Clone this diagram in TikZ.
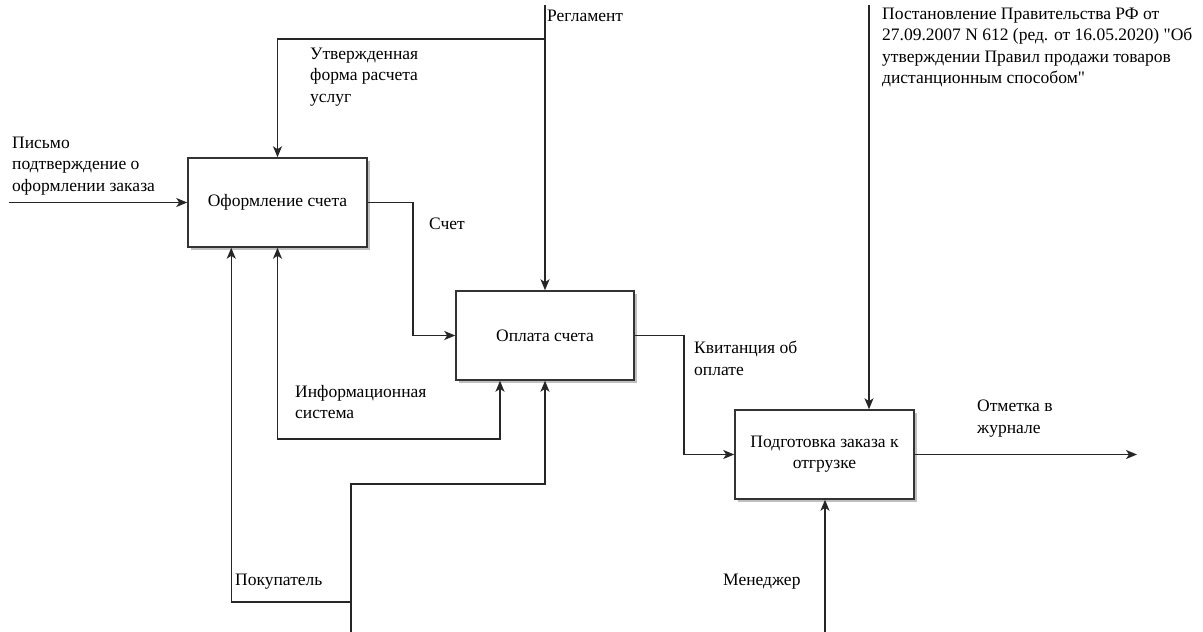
\documentclass[tikz,border=0pt]{standalone}
\usepackage{fontspec}
% a family without the TeX quote mapping, so " stays a straight quote
\newfontfamily\diagfont{Liberation Serif}
\usetikzlibrary{arrows.meta,shadows}
\begin{document}
\begin{tikzpicture}[x=1pt,y=-1pt,
  font=\diagfont\fontsize{17.5}{21.3}\selectfont,
  proc/.style={draw=black!80, line width=1.5pt, fill=white, align=center, inner sep=0pt,
    minimum width=179pt, minimum height=89pt,
    drop shadow={shadow xshift=3pt, shadow yshift=-3pt, fill=black!25, opacity=1}},
  flow/.style={draw=black!85, line width=1.5pt, -{Stealth[length=11pt,width=9pt,inset=3pt]}},
  twoway/.style={draw=black!85, line width=1.5pt, {Stealth[length=11pt,width=9pt,inset=3pt]}-{Stealth[length=11pt,width=9pt,inset=3pt]}},
  lbl/.style={anchor=north west, inner sep=0pt, align=left}]

% canvas
\fill[white] (0,0) rectangle (1203,632);
\useasboundingbox (0,0) rectangle (1203,632);

% activity boxes
\node[proc] (b1) at (277.5,202.5) {Оформление счета};
\node[proc, minimum width=178pt] (b2) at (545,335.5) {Оплата счета};
\node[proc] (b3) at (824.5,454.5) {Подготовка заказа к\\отгрузке};

% free ends of the arrows
\coordinate (pis) at (9,202.5);
\coordinate (reg) at (545,5);
\coordinate (rsplit) at (545,39);
\coordinate (post) at (869,5);
\coordinate (man) at (825,632);
\coordinate (out) at (1137,454.5);
\coordinate (isc) at (500,439);
\coordinate (buy) at (351,632);
\coordinate (bstep) at (351,484);
\coordinate (bsplit) at (351,602);
\coordinate (b1in) at ([xshift=44pt]b1.south west);

% inputs and outputs
\draw[flow] (pis) -- (b1.west);
\draw[flow] (b1.east) -- ++(45,0) |- (b2.west);
\draw[flow] (b2.east) -- ++(49,0) |- (b3.west);
\draw[flow] (b3.east) -- (out);

% controls
\draw[flow] (reg) -- (b2.north);
\draw[flow] (rsplit) -| (b1.north);
\draw[flow] (post) -- (post |- b3.north);

% mechanisms
\draw[twoway] (b1.south) |- (isc) -- (isc |- b2.south);
\draw[flow] (buy) -- (bstep) -| (b2.south);
\draw[flow] (bsplit) -| (b1in);
\draw[flow] (man) -- (man |- b3.south);

% arrow labels
\node[lbl] (tpis) at (12,137) {Письмо\\подтверждение о\\оформлении заказа};
\node[lbl] (treg) at (547,10) {Регламент};
\node[lbl] (tform) at (310,48) {Утвержденная\\форма расчета\\услуг};
\node[lbl] (tsch) at (429,218) {Счет};
\node[lbl] (tinf) at (295,385) {Информационная\\система};
\node[lbl] (tbuy) at (235,574) {Покупатель};
\node[lbl] (tkv) at (694,341) {Квитанция об\\оплате};
\node[lbl] (tmark) at (977,400) {Отметка в\\журнале};
\node[lbl] (tman) at (723,574) {Менеджер};
\node[lbl] (tpost) at (882,8) {Постановление Правительства РФ от\\27.09.2007 N 612 (ред. от 16.05.2020) "Об\\утверждении Правил продажи товаров\\дистанционным способом"};
\end{tikzpicture}
\end{document}
